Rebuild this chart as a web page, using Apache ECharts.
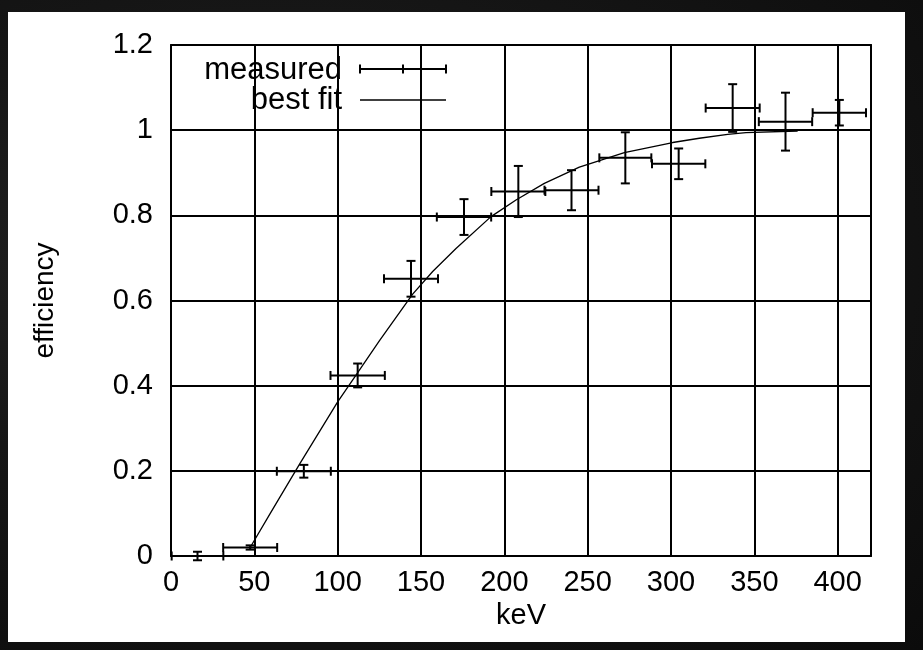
<!DOCTYPE html>
<html>
<head>
<meta charset="utf-8">
<script src="https://cdn.jsdelivr.net/npm/echarts@6/dist/echarts.min.js"></script>
<style>
  html, body { margin: 0; padding: 0; }
  body {
    width: 923px; height: 650px; overflow: hidden; position: relative;
    background: radial-gradient(ellipse at 30% 40%, #2a2a2a 0%, #161616 45%, #0b0b0b 100%);
  }
  #card { position: absolute; left: 8px; top: 12px; width: 897px; height: 630px; background: #ffffff; }
  #chart { position: absolute; left: 0; top: 0; width: 923px; height: 650px; }
</style>
</head>
<body>
<div id="card"></div>
<div id="chart"></div>
<script>
// ---- measured data (keV, efficiency, x error, y error) ----
const measX    = [15.9, 47.5, 79.7, 112, 144, 175.8, 208.4, 240.3, 272.6, 304.6, 337, 368.7, 401];
const measY    = [0.0, 0.02, 0.199, 0.424, 0.651, 0.796, 0.856, 0.859, 0.935, 0.921, 1.052, 1.02, 1.041];
const measXErr = [15.5, 16.2, 16.2, 16.3, 16.2, 16.3, 16.2, 16.2, 15.6, 16.0, 16.2, 16.0, 16.0];
const measYErr = [0.01, 0.005, 0.015, 0.028, 0.042, 0.042, 0.06, 0.047, 0.06, 0.036, 0.056, 0.068, 0.03];

// ---- best fit curve ----
const fitX = [47.5, 60, 77.5, 100, 111, 125, 145, 157, 171, 192, 207, 224, 245, 272, 301, 317, 334, 345, 376];
const fitY = [0.02, 0.103, 0.218, 0.362, 0.425, 0.505, 0.615, 0.668, 0.722, 0.797, 0.836, 0.875, 0.913, 0.947, 0.971, 0.981, 0.99, 0.994, 0.998];

// ---- axes ----
const xMin = 0, xMax = 420, xStep = 50;
const yMin = 0, yMax = 1.2, yStep = 0.2;
const xName = 'keV';
const yName = 'efficiency';
const legendNames = ['measured', 'best fit'];

const FONT = '"Liberation Sans", Arial, sans-serif';
const chart = echarts.init(document.getElementById('chart'), null, { renderer: 'canvas' });

const errData = measX.map((x, i) => [x, measY[i], measXErr[i], measYErr[i]]);
const fitData = fitX.map((x, i) => [x, fitY[i]]);

const LW = 2;
function errorBars(params, api) {
  const x = api.value(0), y = api.value(1), ex = api.value(2), ey = api.value(3);
  const l = api.coord([x - ex, y]);
  const r = api.coord([x + ex, y]);
  const t = api.coord([x, y + ey]);
  const b = api.coord([x, y - ey]);
  const cap = 4.5;
  const st = { stroke: '#000', lineWidth: LW, fill: null };
  const line = (x1, y1, x2, y2) => ({ type: 'line', shape: { x1, y1, x2, y2 }, style: st });
  return {
    type: 'group',
    children: [
      line(l[0], l[1], r[0], r[1]),
      line(l[0], l[1] - cap, l[0], l[1] + cap),
      line(r[0], r[1] - cap, r[0], r[1] + cap),
      line(t[0], t[1], b[0], b[1]),
      line(t[0] - cap, t[1], t[0] + cap, t[1]),
      line(b[0] - cap, b[1], b[0] + cap, b[1])
    ]
  };
}

const axisCommon = {
  axisLine: { show: true, onZero: false, lineStyle: { color: '#000', width: 2 } },
  axisTick: { show: true, inside: true, length: 8, lineStyle: { color: '#000', width: 2 } },
  splitLine: { show: false }
};

const option = {
  animation: false,
  backgroundColor: 'transparent',
  grid: { left: 171, right: 52, top: 45, bottom: 94, containLabel: false },
  xAxis: [
    Object.assign({}, axisCommon, {
      type: 'value', min: xMin, max: xMax, interval: xStep, position: 'bottom', z: 5,
      name: xName, nameLocation: 'middle', nameGap: 31,
      nameTextStyle: { fontFamily: FONT, fontSize: 29, color: '#000' },
      axisLabel: { fontFamily: FONT, fontSize: 29, color: '#000', margin: 12, showMaxLabel: false },
      splitLine: { show: true, lineStyle: { color: '#000', width: 2 } }
    }),
    Object.assign({}, axisCommon, {
      type: 'value', min: xMin, max: xMax, interval: xStep, position: 'top', z: 5,
      axisLabel: { show: false }
    })
  ],
  yAxis: [
    Object.assign({}, axisCommon, {
      type: 'value', min: yMin, max: yMax, interval: yStep, position: 'left', z: 0,
      name: yName, nameLocation: 'middle', nameGap: 112, nameRotate: 90,
      nameTextStyle: { fontFamily: FONT, fontSize: 28, color: '#000' },
      axisLabel: { fontFamily: FONT, fontSize: 29, color: '#000', margin: 18 },
      splitLine: { show: true, lineStyle: { color: '#000', width: 2 } }
    }),
    Object.assign({}, axisCommon, {
      type: 'value', min: yMin, max: yMax, interval: yStep, position: 'right', z: 5,
      axisLabel: { show: false }
    })
  ],
  graphic: [
    // opaque key box (covers grid lines like gnuplot's key)
    { type: 'rect', z: 1, shape: { x: 173, y: 47, width: 285, height: 64 }, style: { fill: '#fff' } },
    { type: 'text', z: 6, x: 342, y: 70, style: { text: legendNames[0], fontFamily: FONT, fontSize: 31, fill: '#000', align: 'right', verticalAlign: 'middle' } },
    { type: 'text', z: 6, x: 342, y: 100, style: { text: legendNames[1], fontFamily: FONT, fontSize: 31, fill: '#000', align: 'right', verticalAlign: 'middle' } },
    { type: 'line', z: 6, shape: { x1: 360, y1: 69, x2: 446, y2: 69 }, style: { stroke: '#000', lineWidth: LW } },
    { type: 'line', z: 6, shape: { x1: 360, y1: 64.5, x2: 360, y2: 73.5 }, style: { stroke: '#000', lineWidth: LW } },
    { type: 'line', z: 6, shape: { x1: 446, y1: 64.5, x2: 446, y2: 73.5 }, style: { stroke: '#000', lineWidth: LW } },
    { type: 'line', z: 6, shape: { x1: 403, y1: 64.5, x2: 403, y2: 73.5 }, style: { stroke: '#000', lineWidth: LW } },
    { type: 'line', z: 6, shape: { x1: 360, y1: 100, x2: 446, y2: 100 }, style: { stroke: '#000', lineWidth: 1.4 } }
  ],
  series: [
    {
      name: legendNames[1], type: 'line', xAxisIndex: 0, yAxisIndex: 0, z: 3,
      data: fitData, showSymbol: false, smooth: false,
      lineStyle: { color: '#000', width: 1.3 }
    },
    {
      name: legendNames[0], type: 'custom', xAxisIndex: 0, yAxisIndex: 0, z: 4,
      data: errData, encode: { x: 0, y: 1 }, clip: false,
      renderItem: errorBars
    }
  ]
};
chart.setOption(option);
</script>
</body>
</html>
